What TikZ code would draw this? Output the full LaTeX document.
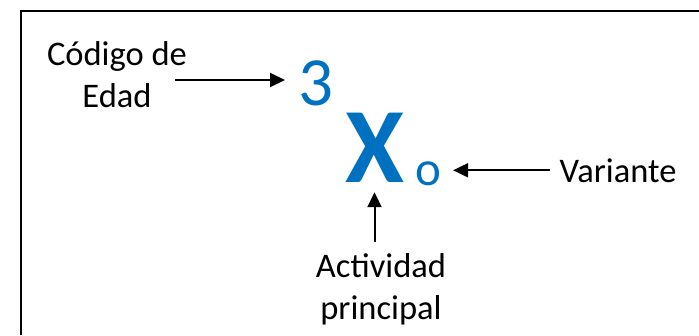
\documentclass[tikz,border=0pt]{standalone}
\usepackage{fontspec}
\setmainfont{Carlito}
\usetikzlibrary{arrows.meta}
\definecolor{azul}{HTML}{0070C0}

\begin{document}
\begin{tikzpicture}[x=1pt,y=-1pt,
  lbl/.style={font=\fontsize{34.5}{42}\selectfont,align=center,inner sep=0pt},
  blue/.style={text=azul,inner sep=0pt},
  arr/.style={line width=2pt,-{Triangle[length=15pt,width=14pt]}}]
\useasboundingbox (0,0) rectangle (699,335);
% frame
\draw[line width=2pt] (699,10.5) -- (20.5,10.5) -- (20.5,335);
% symbol
\node[blue,font=\fontsize{69}{69}\selectfont,anchor=base west,inner xsep=13pt] (tres) at (285,105) {3};
\node[blue,font=\bfseries\fontsize{107}{107}\selectfont,anchor=base,inner ysep=10pt] (X) at (374.5,182) {X};
\node[blue,font=\fontsize{49}{49}\selectfont,anchor=base,inner xsep=12pt] (o) at (428,185) {o};
% labels
\node[lbl,anchor=north] (codigo) at (117,41) {Código de\\Edad};
\node[lbl,anchor=base west,inner xsep=9.5pt] (variante) at (550,182) {Variante};
\node[lbl,anchor=north,inner ysep=11pt] (actividad) at (381,242) {Actividad\\principal};
\coordinate (codigoR) at (175,80);
% arrows
\draw[arr] (codigoR) -- (codigoR -| tres.west);
\draw[arr] (variante.west) -- (variante.west -| o.east);
\draw[arr] (X.south |- actividad.north) -- (X.south);
\end{tikzpicture}
\end{document}
